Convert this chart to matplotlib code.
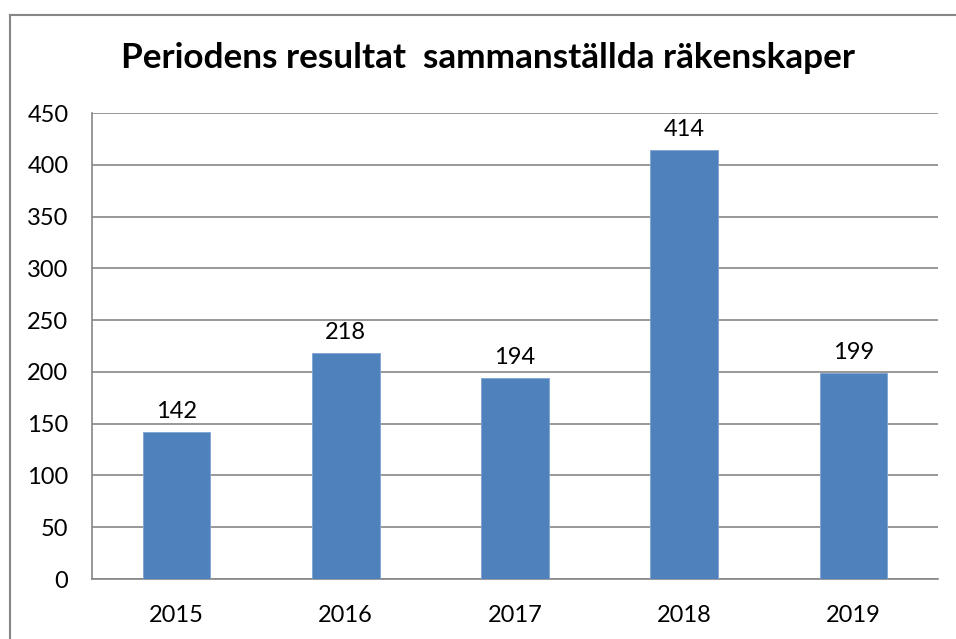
import matplotlib
matplotlib.use("Agg")
import matplotlib.pyplot as plt
from matplotlib.lines import Line2D

years = ["2015", "2016", "2017", "2018", "2019"]
values = [142, 218, 194, 414, 199]
yticks = [0, 50, 100, 150, 200, 250, 300, 350, 400, 450]

BAR, GRID, TXT = "#4f81bd", "#868686", "#000000"
plt.rcParams["font.family"] = ["Lato", "DejaVu Sans"]

W, H = 956, 639
fig = plt.figure(figsize=(W / 100, H / 100), dpi=100)
ax = fig.add_axes([92 / W, 1 - 579 / H, (938 - 92) / W, (579 - 113) / H])

x = range(len(years))
ax.bar(x, values, width=0.4, color=BAR, edgecolor="#7fa3d3", linewidth=0.6, zorder=3)
for xi, v in zip(x, values):
    ax.text(xi, v + 10, str(v), ha="center", va="bottom", fontsize=17, color=TXT)

ax.set_xlim(-0.5, len(years) - 0.5)
ax.set_ylim(0, 450)
ax.set_yticks(yticks)
ax.set_xticks(list(x))
ax.set_xticklabels(years)
ax.tick_params(length=0, labelsize=17, colors=TXT)
ax.tick_params(axis="y", pad=17)
ax.tick_params(axis="x", pad=19)
ax.yaxis.grid(True, color=GRID, linewidth=1.2, zorder=0)
for s in ("top", "right"):
    ax.spines[s].set_visible(False)
for s in ("left", "bottom"):
    ax.spines[s].set_color(GRID)
    ax.spines[s].set_linewidth(1.2)

fig.text(488 / W, 1 - 58 / H, "Periodens resultat  sammanställda räkenskaper",
         ha="center", va="center", fontsize=25.3, fontweight="bold", color=TXT)

# outer chart frame (top and left edges visible)
fig.add_artist(Line2D([10 / W, 10 / W], [0, 1 - 15 / H], transform=fig.transFigure,
                      color=GRID, linewidth=1.5))
fig.add_artist(Line2D([10 / W, 1], [1 - 15 / H, 1 - 15 / H], transform=fig.transFigure,
                      color=GRID, linewidth=1.5))

fig.savefig("out.png", dpi=100)
